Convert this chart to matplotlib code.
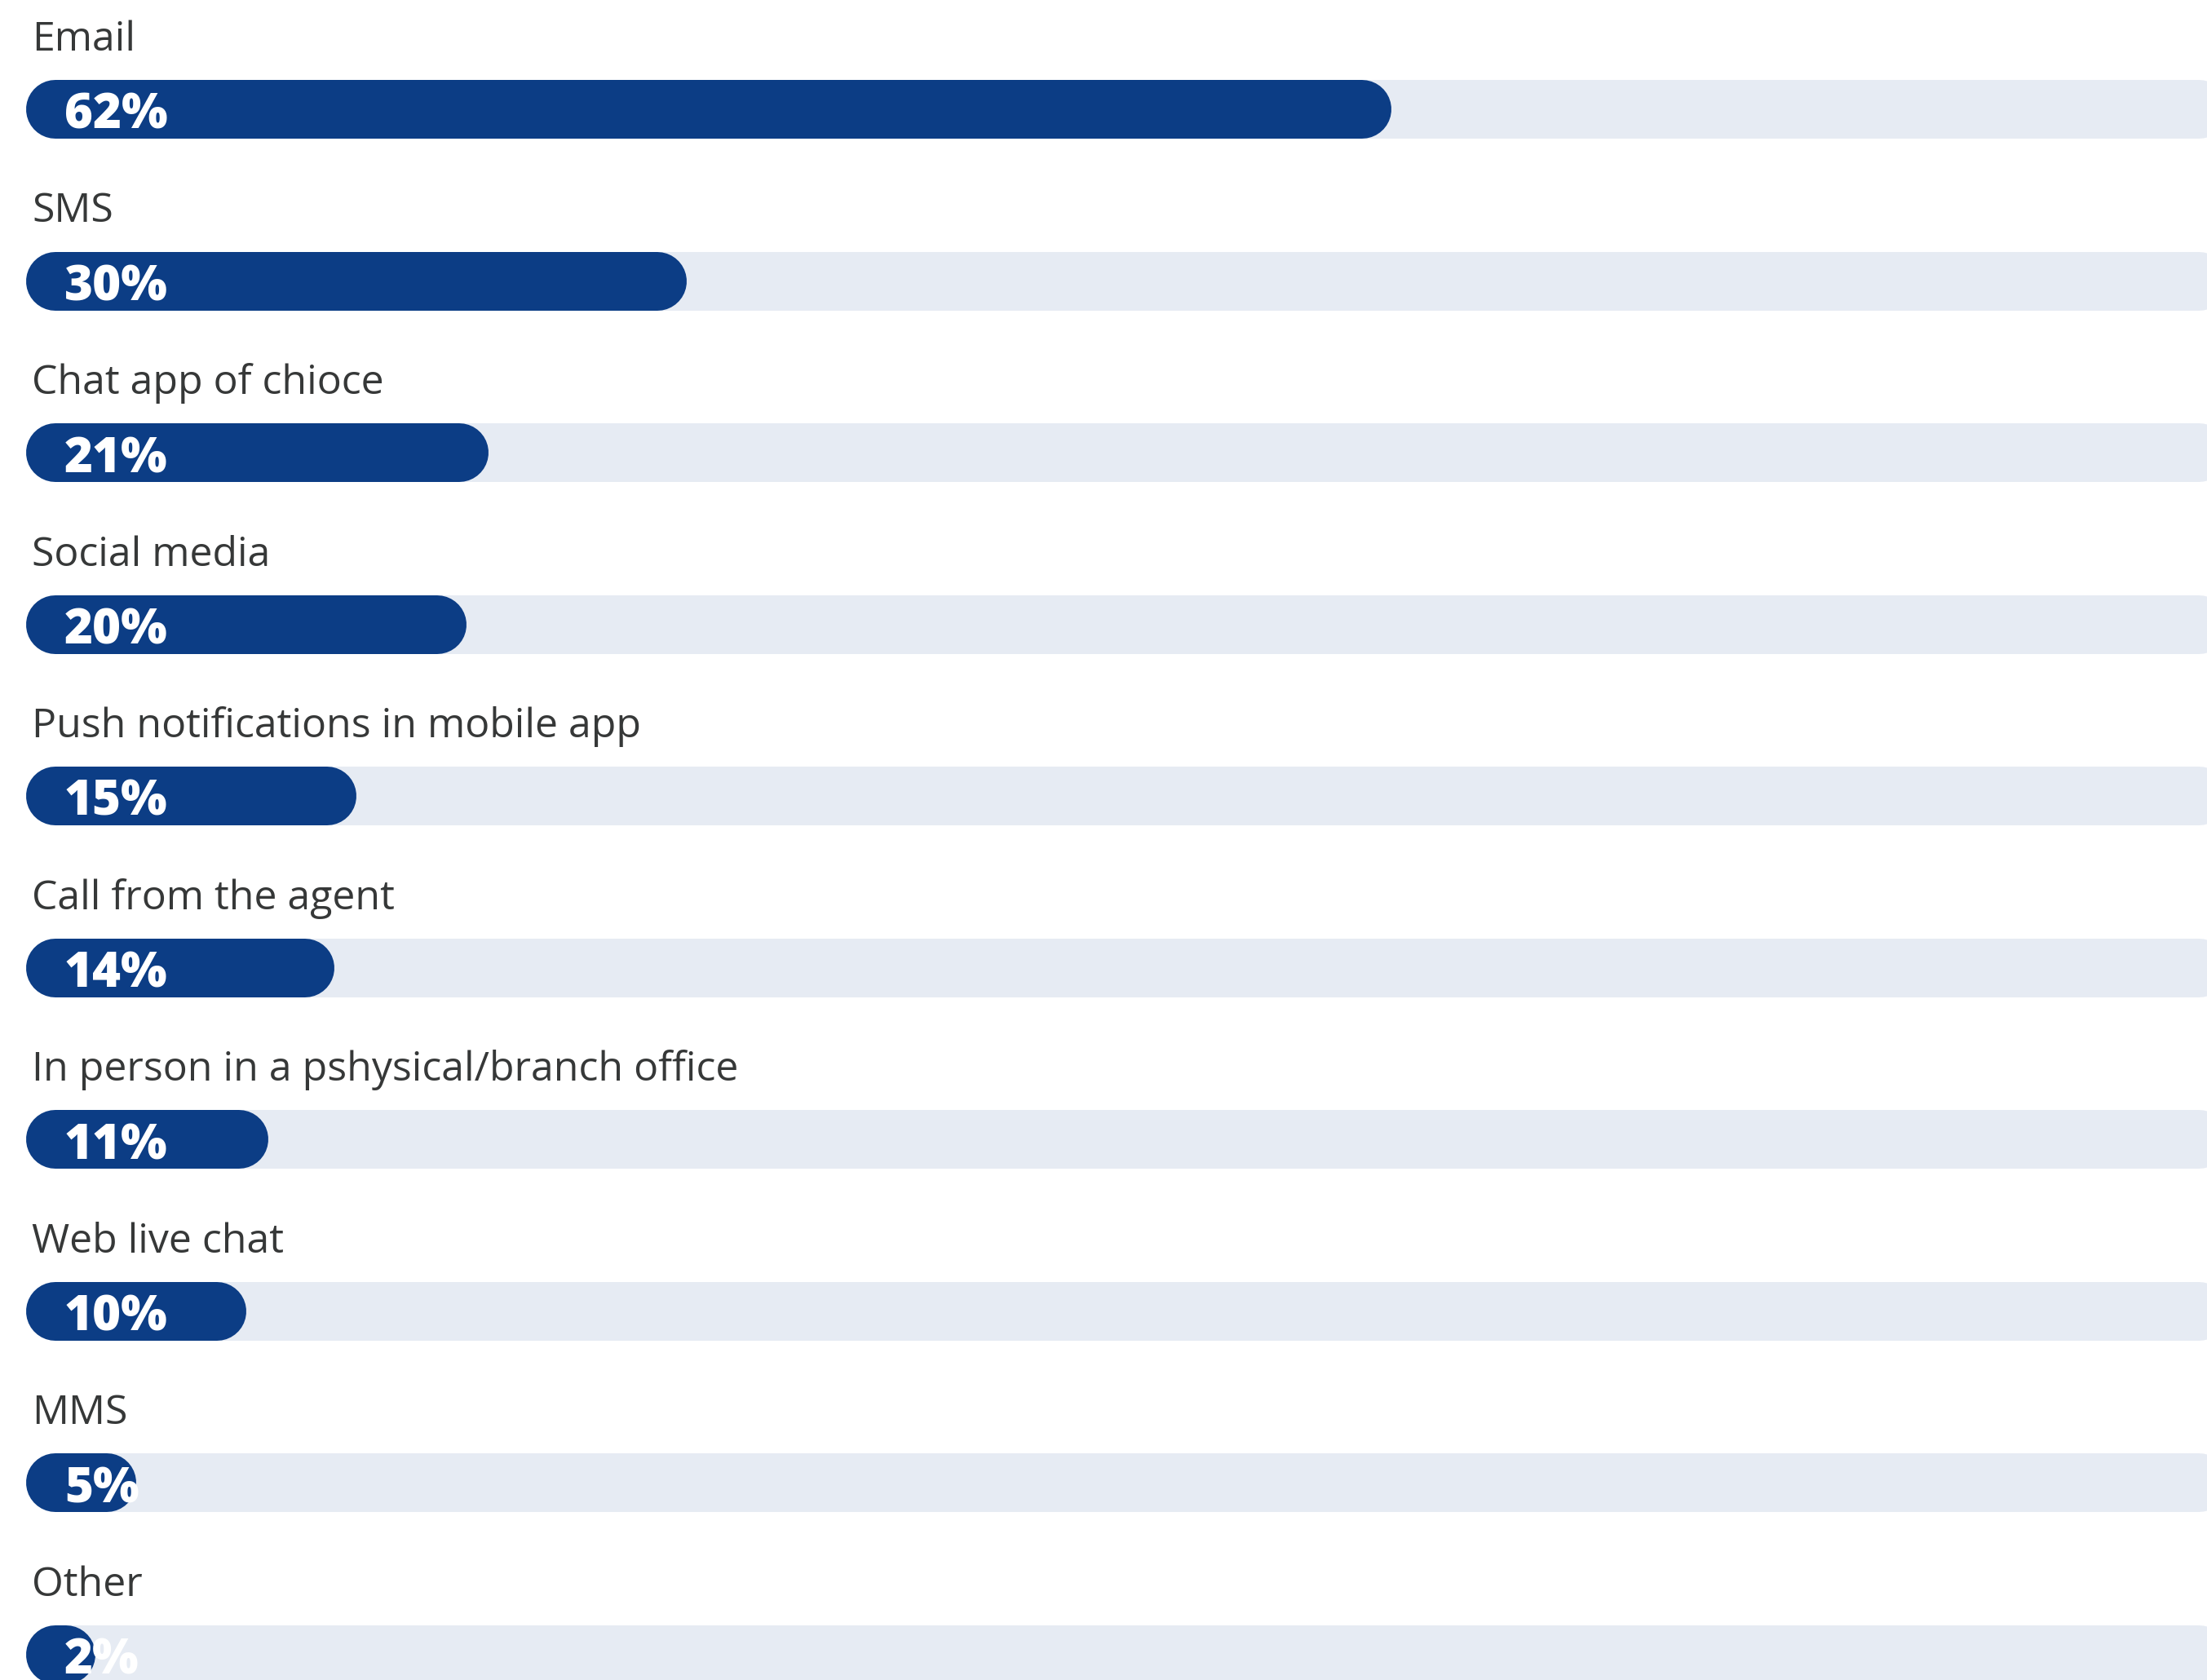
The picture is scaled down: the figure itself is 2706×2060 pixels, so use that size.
import matplotlib
matplotlib.use("Agg")
import matplotlib.pyplot as plt

# Survey results: preferred contact channels (% of respondents)
channels = [
    "Email",
    "SMS",
    "Chat app of chioce",
    "Social media",
    "Push notifications in mobile app",
    "Call from the agent",
    "In person in a pshysical/branch office",
    "Web live chat",
    "MMS",
    "Other",
]
shares = [62, 30, 21, 20, 15, 14, 11, 10, 5, 2]

BLUE = "#0C3D85"
TRACK = "#E6EBF3"
TEXT = "#363838"

W_PX, H_PX, DPI = 2706, 2060, 100
LEFT_PX = 32           # where 0 % sits
SCALE_PX = 27.0        # pixels per percentage point
ROW_PX = 210.5         # row pitch
FIRST_CENTER_PX = 134  # centre of the first bar, from the top
BAR_PX = 72            # bar thickness
MIN_PILL = 3.15        # shortest pill drawn, in percentage points

px2pt = 72 / DPI

fig = plt.figure(figsize=(W_PX / DPI, H_PX / DPI), dpi=DPI)
ax = fig.add_axes([LEFT_PX / W_PX, 0, 100 * SCALE_PX / W_PX, 1])
ax.set_xlim(0, 100)
ax.set_ylim((H_PX - FIRST_CENTER_PX) / ROW_PX, -FIRST_CENTER_PX / ROW_PX)
ax.axis("off")

# half the bar thickness expressed in percentage points (round caps add it)
cap = (BAR_PX / 2) / SCALE_PX


def pill(length, yc, color, z):
    ax.plot([cap, length - cap], [yc, yc], color=color,
            lw=BAR_PX * px2pt, solid_capstyle="round",
            zorder=z, clip_on=False)


for i, (name, v) in enumerate(zip(channels, shares)):
    pill(100, i, TRACK, 1)
    pill(max(v, MIN_PILL), i, BLUE, 2)
    ax.annotate(name, xy=(0, i), xytext=(7 * px2pt, 72 * px2pt),
                textcoords="offset points", ha="left", va="baseline",
                fontsize=36, color=TEXT, family="Open Sans", zorder=3)
    ax.annotate(f"{v}%", xy=(0, i), xytext=(47 * px2pt, -24 * px2pt),
                textcoords="offset points", ha="left", va="baseline",
                fontsize=43, fontweight="heavy", color="white",
                family="Open Sans", zorder=3)

fig.savefig("out.png", dpi=DPI, facecolor="white")
